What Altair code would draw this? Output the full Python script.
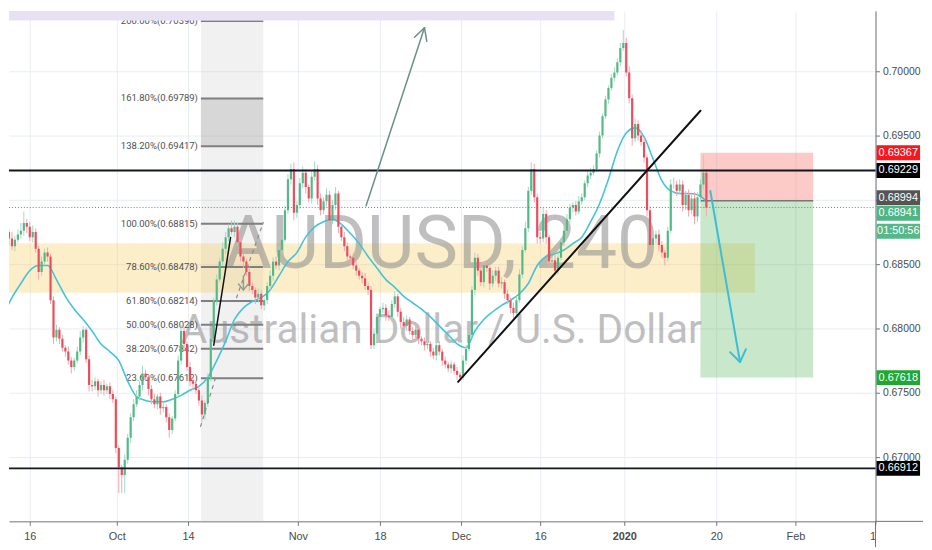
import altair as alt
import pandas as pd

# ---------------- data ----------------
first_open = 0.6866
closes = [
    0.6869, 0.6875, 0.6870, 0.6864, 0.6869, 0.6873, 0.6876, 0.6882, 0.6879, 0.6871,
    0.6875, 0.6862, 0.6844, 0.6852, 0.6859, 0.6856, 0.6822, 0.6793, 0.6799, 0.6792,
    0.6785, 0.6782, 0.6775, 0.6770, 0.6775, 0.6782, 0.6793, 0.6799, 0.6776, 0.6756,
    0.6755, 0.6759, 0.6752, 0.6756, 0.6752, 0.6755, 0.6749, 0.6745, 0.6707, 0.6692,
    0.6686, 0.6698, 0.6715, 0.6731, 0.6741, 0.6747, 0.6756, 0.6765, 0.6762, 0.6753,
    0.6745, 0.6741, 0.6747, 0.6738, 0.6739, 0.6731, 0.6721, 0.6730, 0.6749, 0.6775,
    0.6798, 0.6788, 0.6770, 0.6759, 0.6757, 0.6752, 0.6744, 0.6733, 0.6742, 0.6762,
    0.6792, 0.6821, 0.6838, 0.6852, 0.6862, 0.6871, 0.6878, 0.6875, 0.6879, 0.6867,
    0.6856, 0.6852, 0.6844, 0.6833, 0.6830, 0.6824, 0.6827, 0.6818, 0.6822, 0.6833,
    0.6841, 0.6852, 0.6849, 0.6861, 0.6869, 0.6892, 0.6916, 0.6924, 0.6890, 0.6896,
    0.6913, 0.6921, 0.6910, 0.6901, 0.6918, 0.6924, 0.6901, 0.6892, 0.6899, 0.6904,
    0.6884, 0.6896, 0.6905, 0.6879, 0.6871, 0.6864, 0.6856, 0.6855, 0.6849, 0.6845,
    0.6841, 0.6839, 0.6833, 0.6830, 0.6787, 0.6796, 0.6809, 0.6815, 0.6816, 0.6810,
    0.6809, 0.6819, 0.6825, 0.6813, 0.6805, 0.6802, 0.6807, 0.6798, 0.6795, 0.6799,
    0.6792, 0.6790, 0.6787, 0.6788, 0.6782, 0.6779, 0.6787, 0.6782, 0.6775, 0.6772,
    0.6769, 0.6772, 0.6767, 0.6764, 0.6762, 0.6775, 0.6784, 0.6795, 0.6830, 0.6855,
    0.6845, 0.6836, 0.6849, 0.6847, 0.6835, 0.6841, 0.6845, 0.6835, 0.6836, 0.6827,
    0.6822, 0.6816, 0.6812, 0.6822, 0.6842, 0.6861, 0.6878, 0.6907, 0.6924, 0.6902,
    0.6871, 0.6870, 0.6889, 0.6871, 0.6852, 0.6853, 0.6845, 0.6855, 0.6867, 0.6876,
    0.6885, 0.6894, 0.6896, 0.6891, 0.6899, 0.6902, 0.6913, 0.6919, 0.6921, 0.6924,
    0.6936, 0.6950, 0.6965, 0.6978, 0.6987, 0.6995, 0.6999, 0.7007, 0.7018, 0.7022,
    0.6999, 0.6979, 0.6948, 0.6959, 0.6950, 0.6945, 0.6933, 0.6892, 0.6865, 0.6870,
    0.6873, 0.6865, 0.6859, 0.6855, 0.6876, 0.6912, 0.6912, 0.6907, 0.6912, 0.6896,
    0.6904, 0.6892, 0.6901, 0.6887, 0.6902, 0.6912, 0.6921, 0.68941,
]
# wick lengths in pips above max(open, close) / below min(open, close)
wick_up = [
    3, 4, 2, 5, 3, 4, 6, 9, 3, 4,   5, 3, 2, 4, 3, 4, 2, 3, 4, 2,
    3, 2, 4, 3, 2, 4, 5, 3, 2, 3,   4, 3, 2, 3, 4, 2, 3, 3, 2, 2,
    2, 4, 3, 3, 4, 5, 3, 6, 3, 2,   3, 4, 2, 3, 4, 2, 3, 2, 3, 4,
    5, 3, 2, 4, 3, 2, 3, 4, 2, 3,   2, 3, 4, 3, 5, 4, 3, 6, 5, 3,
    4, 3, 2, 4, 3, 2, 4, 3, 2, 3,   4, 3, 4, 3, 2, 3, 4, 4, 5, 3,
    4, 5, 3, 2, 4, 6, 3, 4, 3, 5,   3, 4, 5, 2, 3, 4, 3, 2, 4, 3,
    2, 3, 4, 3, 3, 4, 3, 2, 4, 3,   4, 3, 4, 2, 3, 4, 3, 2, 3, 4,
    3, 2, 3, 4, 2, 3, 4, 3, 2, 3,   2, 3, 2, 3, 2, 4, 3, 2, 3, 4,
    3, 5, 3, 4, 2, 4, 3, 3, 4, 2,   3, 2, 4, 3, 4, 3, 5, 3, 5, 4,
    3, 4, 5, 3, 2, 3, 4, 3, 2, 3,   4, 3, 2, 3, 4, 3, 2, 3, 4, 3,
    2, 3, 2, 3, 2, 3, 4, 3, 4, 10,  4, 5, 3, 4, 3, 4, 3, 2, 3, 4,
    3, 4, 3, 2, 3, 4, 5, 3, 4, 3,   3, 4, 3, 5, 4, 4, 14, 3,
]
wick_dn = [
    4, 3, 5, 3, 4, 2, 3, 4, 5, 3,   4, 3, 6, 3, 2, 4, 3, 5, 3, 4,
    3, 4, 3, 5, 3, 2, 3, 4, 3, 5,   4, 3, 5, 3, 4, 3, 4, 3, 4, 20,
    14, 14, 3, 4, 3, 2, 3, 4, 3, 5, 4, 3, 4, 5, 3, 4, 6, 3, 2, 3,
    3, 4, 3, 4, 5, 3, 4, 6, 4, 3,   3, 2, 3, 2, 3, 4, 3, 2, 4, 3,
    4, 5, 3, 4, 3, 5, 4, 3, 4, 3,   3, 4, 3, 4, 3, 2, 3, 4, 6, 4,
    3, 4, 5, 3, 4, 3, 5, 4, 3, 4,   5, 3, 4, 5, 3, 4, 3, 5, 3, 4,
    3, 4, 3, 4, 3, 3, 2, 4, 3, 4,   3, 4, 3, 4, 5, 3, 4, 3, 4, 3,
    4, 3, 4, 3, 4, 3, 4, 3, 4, 3,   3, 4, 3, 4, 3, 2, 3, 2, 3, 4,
    4, 3, 4, 3, 5, 3, 4, 3, 4, 4,   3, 4, 4, 3, 2, 3, 2, 3, 3, 4,
    5, 4, 3, 5, 4, 3, 4, 3, 2, 3,   2, 3, 4, 3, 2, 3, 2, 3, 3, 2,
    2, 3, 2, 2, 3, 2, 3, 2, 3, 2,   3, 4, 6, 3, 4, 3, 4, 5, 5, 4,
    4, 5, 4, 6, 3, 2, 3, 4, 3, 5,   4, 5, 3, 6, 4, 3, 4, 7,
]
# moving average, one value every 3 bars
ma_every = 3
ma_values = [
    0.6810, 0.6824, 0.6835, 0.6845, 0.6849, 0.6849, 0.6838, 0.6825, 0.6815, 0.6807,
    0.6798, 0.6788, 0.6782, 0.6775, 0.6759, 0.6747, 0.6744, 0.6743, 0.6743, 0.6745,
    0.6748, 0.6752, 0.6755, 0.6762, 0.6775, 0.6790, 0.6807, 0.6816, 0.6821, 0.6824,
    0.6830, 0.6841, 0.6852, 0.6859, 0.6871, 0.6879, 0.6883, 0.6885, 0.6881, 0.6874,
    0.6866, 0.6856, 0.6847, 0.6838, 0.6832, 0.6825, 0.6820, 0.6815, 0.6809, 0.6802,
    0.6795, 0.6788, 0.6785, 0.6798, 0.6807, 0.6813, 0.6818, 0.6822, 0.6827, 0.6835,
    0.6849, 0.6856, 0.6858, 0.6861, 0.6866, 0.6871, 0.6883, 0.6897, 0.6916, 0.6938,
    0.6952, 0.6956, 0.6949, 0.6932, 0.6915, 0.6907, 0.6905, 0.6905, 0.6904, 0.6899,
]

tick_pos = [9, 38.33, 62.33, 99.33, 127, 154.33, 181, 209.33, 240.33, 267, 294]
tick_lab = ["16", "Oct", "14", "Nov", "18", "Dec", "16", "2020", "20", "Feb", "17"]
price_ticks = [0.670, 0.675, 0.680, 0.685, 0.690, 0.695, 0.700]

fib_pct = ["200.00%", "161.80%", "138.20%", "100.00%", "78.60%", "61.80%",
           "50.00%", "38.20%", "23.60%"]
fib_lvl = [0.70390, 0.69789, 0.69417, 0.68815, 0.68478, 0.68214, 0.68028, 0.67842, 0.67612]
fib_from, fib_to = 66.67, 87.67
fib_box = (0.69417, 0.69789)

level_lines = [0.69229, 0.66912]
last_price = 0.68941
zone_lo, zone_hi, zone_end = 0.68277, 0.68662, 253.33
top_lo, top_hi, top_end = 0.70390, 0.7100, 206.0
pos_from, pos_to = 235.0, 273.0
pos_stop, pos_entry, pos_target = 0.69367, 0.68994, 0.67618

trend_line = [(153.33, 0.67585, 235.0, 0.69693)]
proj_arrow = [(122.33, 0.68954, 142.0, 0.70339), (142.0, 0.70339, 138.63, 0.70264),
              (142.0, 0.70339, 142.8, 0.70233)]
down_arrow = [(238.33, 0.69069, 248.33, 0.67739), (248.33, 0.67739, 245.0, 0.67816),
              (248.33, 0.67739, 250.33, 0.67839)]
leg_line = [(71.0, 0.67870, 76.67, 0.68708)]
dashed_path = [(66.57, 0.67239, 72.0, 0.67646), (78.67, 0.68239, 87.67, 0.68823)]
small_arrow = [(81.0, 0.68408, 81.0, 0.68300), (81.0, 0.68300, 79.33, 0.68346),
               (81.0, 0.68300, 82.67, 0.68346)]

tag_price = [0.69367, 0.69229, 0.67618, 0.66912]
tag_bg = ["#f7171c", "#000000", "#1fa832", "#000000"]
entry_tag_bg = "#555555"
countdown = "01:50:56"

# ---------------- build ----------------
FONT = "Liberation Sans, Arial, sans-serif"
WM_FONT = "Roboto, Liberation Sans, sans-serif"

opens = [first_open] + closes[:-1]
candles = pd.DataFrame({
    "t": list(range(len(closes))),
    "open": opens,
    "close": closes,
    "high": [max(o, c) + u * 0.0001 for o, c, u in zip(opens, closes, wick_up)],
    "low": [min(o, c) - d * 0.0001 for o, c, d in zip(opens, closes, wick_dn)],
    "up": [c >= o for o, c in zip(opens, closes)],
})
ma = pd.DataFrame({"t": [i * ma_every for i in range(len(ma_values))], "v": ma_values})

mids = [(a + b) / 2 for a, b in zip(tick_pos[:-1], tick_pos[1:])]
label_expr = "".join(f"datum.value < {m:.2f} ? '{l}' : " for m, l in zip(mids, tick_lab[:-1]))
label_expr += f"'{tick_lab[-1]}'"

xscale = alt.Scale(domain=[2, 294], nice=False, zero=False, padding=0)
yscale = alt.Scale(domain=[0.665, 0.704692], nice=False, zero=False, padding=0)
xaxis = alt.Axis(values=tick_pos, labelExpr=label_expr, title=None, grid=True,
                 gridColor="#e8edf3", domainColor="#6f727b", tickColor="#6f727b",
                 tickSize=4, labelColor="#4a4a4a", labelFont=FONT, labelFontSize=11,
                 labelPadding=5, labelFlush=False, labelOverlap=False,
                 labelFontWeight={"condition": {"test": "datum.value > 200 && datum.value < 220",
                                                "value": "bold"}, "value": "normal"})
yaxis = alt.Axis(orient="right", values=price_ticks, format=".5f", title=None, grid=True,
                 gridColor="#e8edf3", domainColor="#6f727b", tickColor="#6f727b",
                 tickSize=4, labelColor="#4a4a4a", labelFont=FONT, labelFontSize=10.5,
                 labelPadding=3, labelOverlap=False)


def X(f):
    return alt.X(f"{f}:Q", scale=xscale, axis=xaxis)


def Y(f):
    return alt.Y(f"{f}:Q", scale=yscale, axis=yaxis)


one = pd.DataFrame({"a": [0]})

# background boxes
gray_band = alt.Chart(pd.DataFrame({"x": [fib_from], "x2": [fib_to], "y": [0.66], "y2": [0.71]})
                      ).mark_rect(color="#9e9e9e", opacity=0.15, clip=True).encode(
    x=X("x"), x2="x2", y=Y("y"), y2="y2")
fib_rect = alt.Chart(pd.DataFrame({"x": [fib_from], "x2": [fib_to], "y": [fib_box[0]], "y2": [fib_box[1]]})
                     ).mark_rect(color="#9a9a9a", opacity=0.3).encode(
    x=X("x"), x2="x2", y=Y("y"), y2="y2")
zone = alt.Chart(pd.DataFrame({"x": [-5], "x2": [zone_end], "y": [zone_lo], "y2": [zone_hi]})
                 ).mark_rect(color="#f9c74f", opacity=0.3, clip=True).encode(
    x=X("x"), x2="x2", y=Y("y"), y2="y2")
pos_df = pd.DataFrame({"x": [pos_from, pos_from], "x2": [pos_to, pos_to],
                       "y": [pos_entry, pos_target], "y2": [pos_stop, pos_entry],
                       "c": ["#f44336", "#4caf50"], "o": [0.28, 0.3]})
pos = alt.Chart(pos_df).mark_rect().encode(
    x=X("x"), x2="x2", y=Y("y"), y2="y2",
    color=alt.Color("c:N", scale=None), opacity=alt.Opacity("o:Q", scale=None))
entry = alt.Chart(pd.DataFrame({"x": [pos_from], "x2": [pos_to], "y": [pos_entry]})).mark_rule(
    color="#777777", strokeWidth=1.5).encode(x=X("x"), x2="x2", y=Y("y"))

watermark1 = alt.Chart(one).mark_text(
    text="AUDUSD, 240", font=WM_FONT, fontSize=74, color="#8c8c8c", opacity=0.55,
    align="center", baseline="alphabetic").encode(x=alt.value(437), y=alt.value(260))
watermark2 = alt.Chart(one).mark_text(
    text="Australian Dollar / U.S. Dollar", font=WM_FONT, fontSize=41, color="#8c8c8c",
    opacity=0.55, align="center", baseline="alphabetic").encode(x=alt.value(437), y=alt.value(336))

fib_df = pd.DataFrame({"y": fib_lvl, "x": [fib_from] * len(fib_lvl), "x2": [fib_to] * len(fib_lvl),
                       "xl": [fib_from - 1.0] * len(fib_lvl),
                       "lab": [f"{p}({v:.5f})" for p, v in zip(fib_pct, fib_lvl)]})
fib_lines = alt.Chart(fib_df).mark_rule(color="#7f7f7f", strokeWidth=2).encode(
    x=X("x"), x2="x2", y=Y("y"))
fib_text = alt.Chart(fib_df).mark_text(
    align="right", baseline="middle", font=WM_FONT, fontSize=9.6, color="#505050").encode(
    x=X("xl"), y=Y("y"), text="lab:N")
top_band = alt.Chart(pd.DataFrame({"x": [-5], "x2": [top_end], "y": [top_lo + 0.00005], "y2": [top_hi]})
                     ).mark_rect(color="#e8e1f4", clip=True).encode(
    x=X("x"), x2="x2", y=Y("y"), y2="y2")

ma_line = alt.Chart(ma).mark_line(color="#45c3d8", strokeWidth=1.6, interpolate="monotone",
                                  clip=True).encode(x=X("t"), y=Y("v"))

wicks = alt.Chart(candles).mark_rule(strokeWidth=1, clip=True).encode(
    x=X("t"), y=Y("low"), y2="high",
    color=alt.condition("datum.up", alt.value("#a3d9c1"), alt.value("#f4a6ae")))
bodies = alt.Chart(candles).mark_bar(size=2.2, clip=True).encode(
    x=X("t"), y=Y("open"), y2="close",
    color=alt.condition("datum.up", alt.value("#53b987"), alt.value("#eb4d5c")))

hlines = alt.Chart(pd.DataFrame({"y": level_lines})).mark_rule(
    color="#131722", strokeWidth=2).encode(y=Y("y"), x=alt.value(0), x2=alt.value(876))
last_line = alt.Chart(pd.DataFrame({"y": [last_price]})).mark_rule(
    color="#2ea35a", strokeWidth=1, strokeDash=[1, 2]).encode(
    y=Y("y"), x=alt.value(0), x2=alt.value(876))


def seg_chart(segs, **style):
    df = pd.DataFrame(segs, columns=["x", "y", "x2", "y2"])
    return alt.Chart(df).mark_rule(strokeCap="round", **style).encode(
        x=X("x"), y=Y("y"), x2="x2", y2="y2")


trend = seg_chart(trend_line, color="#111111", strokeWidth=2)
proj = seg_chart(proj_arrow, color="#6b8e86", strokeWidth=1.5)
down = seg_chart(down_arrow, color="#3bbfd4", strokeWidth=2)
leg = seg_chart(leg_line, color="#111111", strokeWidth=1.5)
dash = seg_chart(dashed_path, color="#8a8a8a", strokeWidth=1.2, strokeDash=[3, 5])
sarrow = seg_chart(small_arrow, color="#8f9e9c", strokeWidth=1.5)

# axis corner: x-axis line runs on under the price scale, "17" is cut by the scale
corner_mask = alt.Chart(one).mark_rect(color="white").encode(
    x=alt.value(877), x2=alt.value(924), y=alt.value(518), y2=alt.value(542))
corner_h = alt.Chart(one).mark_rule(color="#6f727b", strokeWidth=1).encode(
    x=alt.value(876), x2=alt.value(924), y=alt.value(516))
corner_v = alt.Chart(one).mark_rule(color="#6f727b", strokeWidth=1).encode(
    x=alt.value(876), y=alt.value(516), y2=alt.value(542))

# price tags on the right axis
half = 0.00058
tags = pd.DataFrame({"p": tag_price, "bg": tag_bg,
                     "lab": [f"{v:.5f}" for v in tag_price]})
tags["lo"] = tags["p"] - half
tags["hi"] = tags["p"] + half
tag_rect = alt.Chart(tags).mark_rect().encode(
    x=alt.value(877), x2=alt.value(921), y=Y("lo"), y2="hi",
    color=alt.Color("bg:N", scale=None))
tag_text = alt.Chart(tags).mark_text(color="white", font=FONT, fontSize=11,
                                     baseline="middle", align="center").encode(
    x=alt.value(899), y=Y("p"), text="lab:N")

e_df = pd.DataFrame({"p": [pos_entry], "lo": [pos_entry - half], "hi": [pos_entry + half],
                     "lab": [f"{pos_entry:.5f}"]})
e_rect = alt.Chart(e_df).mark_rect(color=entry_tag_bg, yOffset=-3, y2Offset=-3).encode(
    x=alt.value(877), x2=alt.value(921), y=Y("lo"), y2="hi")
e_text = alt.Chart(e_df).mark_text(color="white", font=FONT, fontSize=11, dy=-3,
                                   baseline="middle", align="center").encode(
    x=alt.value(899), y=Y("p"), text="lab:N")

last_df = pd.DataFrame({"p": [last_price], "lo": [last_price - half], "hi": [last_price + half],
                        "lab": [f"{last_price:.5f}"], "cd": [countdown]})
last_rect = alt.Chart(last_df).mark_rect(color="#4fb582", yOffset=6, y2Offset=6).encode(
    x=alt.value(877), x2=alt.value(921), y=Y("lo"), y2="hi")
last_text = alt.Chart(last_df).mark_text(color="white", font=FONT, fontSize=11, dy=6,
                                         baseline="middle", align="center").encode(
    x=alt.value(899), y=Y("p"), text="lab:N")
cd_rect = alt.Chart(last_df).mark_rect(color="#55b889", yOffset=24, y2Offset=24).encode(
    x=alt.value(877), x2=alt.value(921), y=Y("lo"), y2="hi")
cd_text = alt.Chart(last_df).mark_text(color="white", font=FONT, fontSize=11, dy=24,
                                       baseline="middle", align="center").encode(
    x=alt.value(899), y=Y("p"), text="cd:N")

chart = alt.layer(
    gray_band, fib_rect, zone, pos, entry, watermark1, watermark2,
    fib_lines, fib_text, top_band, ma_line, wicks, bodies,
    hlines, last_line, trend, proj, down, leg, dash, sarrow,
    corner_mask, corner_h, corner_v,
    tag_rect, tag_text, e_rect, e_text, last_rect, last_text, cd_rect, cd_text,
).properties(width=876, height=516, padding=0, background="white"
).configure_view(strokeWidth=0)

chart.save("out.html", embed_options={"renderer": "svg", "actions": False})
